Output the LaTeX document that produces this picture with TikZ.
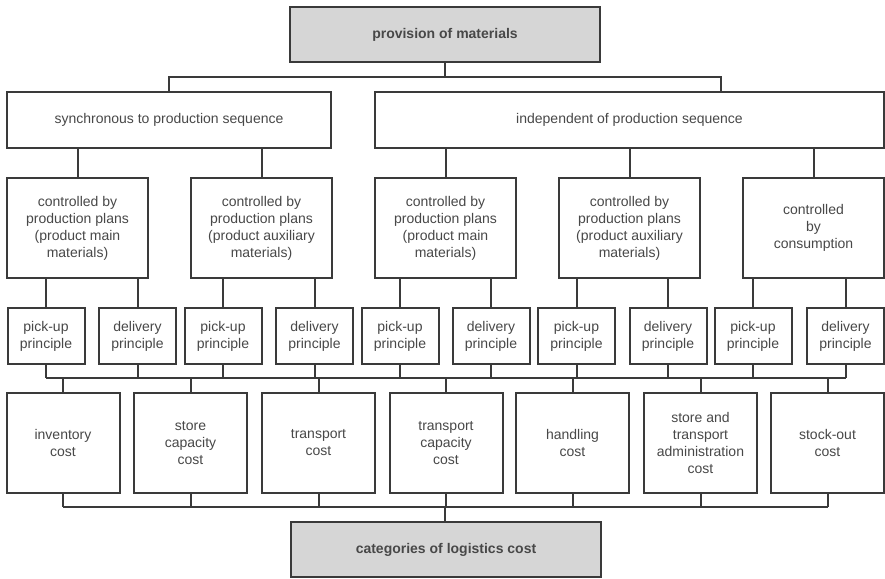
\documentclass[tikz,border=0pt]{standalone}
\usepackage{fontspec}
\setmainfont{Liberation Sans}
\usepackage{xcolor}
\usepackage{tikz}
\usetikzlibrary{positioning,calc}
\definecolor{frame}{RGB}{58, 58, 58}
\definecolor{ink}{RGB}{72, 72, 72}
\definecolor{headbg}{RGB}{214, 214, 214}

\begin{document}
\begin{tikzpicture}[
    x=0.5pt, y=-0.5pt,
    box/.style={draw=frame, line width=1pt, fill=white, align=center, text=ink, font=\fontsize{7}{8.5}\selectfont, inner sep=1pt},
    headbox/.style={box, fill=headbg, font=\fontsize{7}{8.5}\selectfont\bfseries, minimum width=155pt, minimum height=27.5pt},
    seqbox/.style={box, minimum height=28pt},
    ctrlbox/.style={box, minimum width=70.5pt, minimum height=50pt},
    princbox/.style={box, minimum width=38.5pt, minimum height=28pt},
    costbox/.style={box, minimum width=56.5pt, minimum height=50pt},
    link/.style={draw=frame, line width=1pt}
]
    \useasboundingbox (0,0) rectangle (885,579);

    % Root and the two sequence branches
    \node[headbox] (prov) at (445,34.5) {provision of materials};
    \node[seqbox, minimum width=162pt] (sync) at (169,120) {synchronous to production sequence};
    \node[seqbox, minimum width=254.5pt] (indep) at (629.5,120) {independent of production sequence};

    % Kinds of control
    \node[ctrlbox] (sm) at (77.5,228) {controlled by\\production plans\\(product main\\materials)};
    \node[ctrlbox] (sa) at (261.5,228) {controlled by\\production plans\\(product auxiliary\\materials)};
    \node[ctrlbox] (im) at (445.5,228) {controlled by\\production plans\\(product main\\materials)};
    \node[ctrlbox] (ia) at (629.5,228) {controlled by\\production plans\\(product auxiliary\\materials)};
    \node[ctrlbox] (ic) at (813.5,228) {controlled\\by\\consumption};

    % Pick-up / delivery principles
    \node[princbox] (smp) at (46,336) {pick-up\\principle};
    \node[princbox] (smd) at (137.5,336) {delivery\\principle};
    \node[princbox] (sap) at (223,336) {pick-up\\principle};
    \node[princbox] (sad) at (314.5,336) {delivery\\principle};
    \node[princbox] (imp) at (400,336) {pick-up\\principle};
    \node[princbox] (imd) at (491,336) {delivery\\principle};
    \node[princbox] (iap) at (576.5,336) {pick-up\\principle};
    \node[princbox] (iad) at (668,336) {delivery\\principle};
    \node[princbox] (icp) at (753,336) {pick-up\\principle};
    \node[princbox] (icd) at (845.5,336) {delivery\\principle};

    % Cost categories
    \node[costbox] (inv) at (63,443) {inventory\\cost};
    \node[costbox] (stc) at (190.5,443) {store\\capacity\\cost};
    \node[costbox] (trn) at (318.5,443) {transport\\cost};
    \node[costbox] (trc) at (446,443) {transport\\capacity\\cost};
    \node[costbox] (hdl) at (572.5,443) {handling\\cost};
    \node[costbox] (adm) at (700.5,443) {store and\\transport\\administration\\cost};
    \node[costbox] (sto) at (827.5,443) {stock-out\\cost};

    \node[headbox] (cat) at (446,549.5) {categories of logistics cost};

    % Bus levels
    \coordinate (busA) at (445,77);
    \coordinate (busB) at (445,378);
    \coordinate (busC) at (445,507);

    % Root to branches
    \draw[link] (prov.south) -- (busA);
    \draw[link] (sync.north) |- (busA) -| ([xshift=45.75pt]indep.north);

    % Branches to control kinds
    \draw[link] (sm.north |- sync.south) -- (sm.north);
    \draw[link] (sa.north |- sync.south) -- (sa.north);
    \draw[link] (im.north |- indep.south) -- (im.north);
    \draw[link] (ia.north |- indep.south) -- (ia.north);
    \draw[link] (ic.north |- indep.south) -- (ic.north);

    % Control kinds to principles
    \foreach \c/\p/\d in {sm/smp/smd, sa/sap/sad, im/imp/imd, ia/iap/iad, ic/icp/icd} {
        \draw[link] (\p.north |- \c.south) -- (\p.north);
        \draw[link] (\d.north |- \c.south) -- (\d.north);
    }

    % Principles to cost categories
    \draw[link] (smp.south |- busB) -- (icd.south |- busB);
    \foreach \p in {smp,smd,sap,sad,imp,imd,iap,iad,icp,icd}
        \draw[link] (\p.south) -- (\p.south |- busB);
    \foreach \k in {inv,stc,trn,trc,hdl,adm,sto}
        \draw[link] (\k.north |- busB) -- (\k.north);

    % Cost categories to summary
    \draw[link] (inv.south |- busC) -- (sto.south |- busC);
    \foreach \k in {inv,stc,trn,trc,hdl,adm,sto}
        \draw[link] (\k.south) -- (\k.south |- busC);
    \draw[link] (busC) -- (busC |- cat.north);

\end{tikzpicture}
\end{document}
